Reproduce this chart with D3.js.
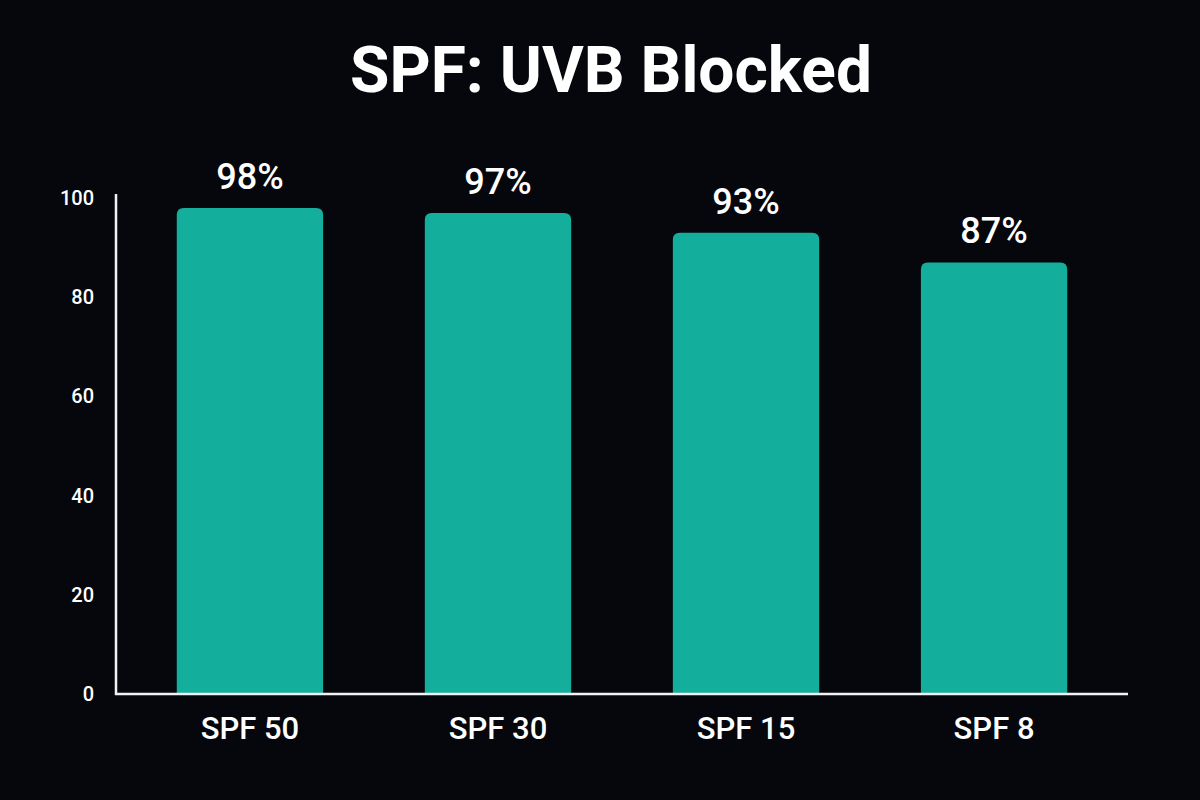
<!DOCTYPE html>
<html>
<head>
<meta charset="utf-8">
<script src="https://cdn.jsdelivr.net/npm/d3@7"></script>
<style>
  html, body { margin: 0; padding: 0; background: #05070c; }
  svg { display: block; }
</style>
</head>
<body>
<svg width="1200" height="800"></svg>
<script>
// data
var categories = ["SPF 50", "SPF 30", "SPF 15", "SPF 8"];
var blocked = [98, 97, 93, 87];
var yTicks = [0, 20, 40, 60, 80, 100];

var svg = d3.select("svg"),
    width = +svg.attr("width"),
    height = +svg.attr("height");

var margin = {top: 198, right: 72, bottom: 106, left: 116};

svg.append("rect")
    .attr("width", width)
    .attr("height", height)
    .attr("fill", "#05070c");

var x = d3.scaleBand()
    .domain(categories)
    .range([margin.left, width - margin.right])
    .paddingInner(0.41)
    .paddingOuter(0.245);

var y = d3.scaleLinear()
    .domain([0, 100])
    .range([height - margin.bottom, margin.top]);

// title
svg.append("text")
    .attr("x", 611)
    .attr("y", 92)
    .attr("text-anchor", "middle")
    .attr("fill", "#ffffff")
    .style("font-family", "Roboto, 'Liberation Sans', sans-serif")
    .style("font-weight", 700)
    .style("font-size", "64px")
    .text("SPF: UVB Blocked");

// bars with rounded tops
var r = 7;
svg.append("g")
  .selectAll("path")
  .data(categories)
  .enter()
  .append("path")
    .attr("fill", "#14ae9c")
    .attr("d", function(d, i) {
      var x0 = x(d), x1 = x(d) + x.bandwidth(),
          y0 = y(0), y1 = y(blocked[i]);
      return "M" + x0 + "," + y0 +
             "V" + (y1 + r) +
             "Q" + x0 + "," + y1 + " " + (x0 + r) + "," + y1 +
             "H" + (x1 - r) +
             "Q" + x1 + "," + y1 + " " + x1 + "," + (y1 + r) +
             "V" + y0 + "Z";
    });

// value labels
svg.append("g")
  .selectAll("text")
  .data(categories)
  .enter()
  .append("text")
    .attr("x", function(d) { return x(d) + x.bandwidth() / 2; })
    .attr("y", function(d, i) { return y(blocked[i]) - 19; })
    .attr("text-anchor", "middle")
    .attr("fill", "#ffffff")
    .style("font-family", "Roboto, 'Liberation Sans', sans-serif")
    .style("font-weight", 500)
    .style("font-size", "36px")
    .text(function(d, i) { return blocked[i] + "%"; });

// axes
var yAxis = svg.append("g")
    .attr("transform", "translate(" + margin.left + ",0)")
    .call(d3.axisLeft(y).tickValues(yTicks).tickSize(0).tickPadding(22));

var xAxis = svg.append("g")
    .attr("transform", "translate(0," + y(0) + ")")
    .call(d3.axisBottom(x).tickSize(0).tickPadding(23));

yAxis.select(".domain").remove();
xAxis.select(".domain").remove();

svg.append("line")
    .attr("x1", margin.left).attr("x2", margin.left)
    .attr("y1", y(100) - 4).attr("y2", y(0) + 1)
    .attr("stroke", "#f2f2f2").attr("stroke-width", 2.5);

svg.append("line")
    .attr("x1", margin.left - 1).attr("x2", width - margin.right)
    .attr("y1", y(0)).attr("y2", y(0))
    .attr("stroke", "#f2f2f2").attr("stroke-width", 2.5);

yAxis.selectAll("text")
    .attr("fill", "#ffffff")
    .style("font-family", "Roboto, 'Liberation Sans', sans-serif")
    .style("font-weight", 500)
    .style("font-size", "20px");

xAxis.selectAll("text")
    .attr("fill", "#ffffff")
    .style("font-family", "Roboto, 'Liberation Sans', sans-serif")
    .style("font-weight", 500)
    .style("font-size", "31px");
</script>
</body>
</html>
